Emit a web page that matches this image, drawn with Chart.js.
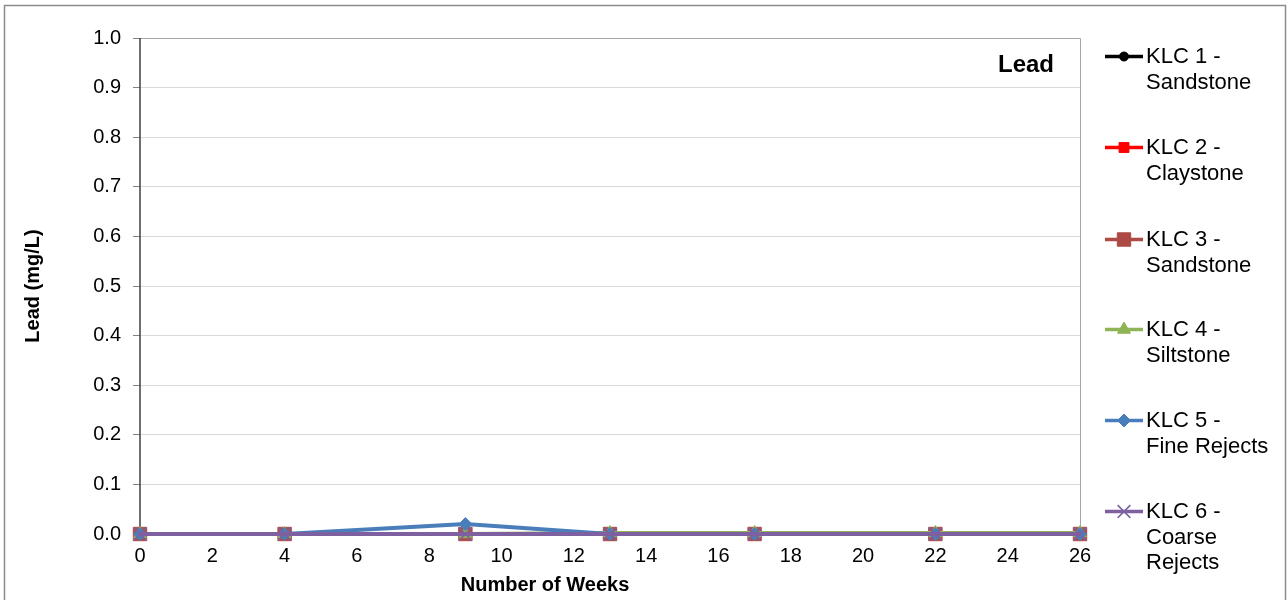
<!DOCTYPE html>
<html>
<head>
<meta charset="utf-8">
<script src="https://cdn.jsdelivr.net/npm/chart.js@4/dist/chart.umd.min.js"></script>
<style>
  body { margin: 0; background: #fff; }
  #wrap { width: 1288px; height: 600px; position: relative; }
</style>
</head>
<body>
<div id="wrap"><canvas id="lead-chart"></canvas></div>
<script>
// data
const weeks = [0, 4, 9, 13, 17, 22, 26];
const klc1 = [0, 0, 0, 0, 0, 0, 0];
const klc2 = [0, 0, 0, 0, 0, 0, 0];
const klc3 = [0, 0, 0, 0, 0, 0, 0];
const klc4 = [0, 0, 0, 0.002, 0.002, 0.002, 0.002];
const klc5 = [0, 0, 0.02, 0, 0, 0, 0];
const klc6 = [0, 0, 0, 0, 0, 0, 0];
const seriesNames = [
    ['KLC 1 -', 'Sandstone'],
    ['KLC 2 -', 'Claystone'],
    ['KLC 3 -', 'Sandstone'],
    ['KLC 4 -', 'Siltstone'],
    ['KLC 5 -', 'Fine Rejects'],
    ['KLC 6 -', 'Coarse', 'Rejects']
];
const seriesValues = [klc1, klc2, klc3, klc4, klc5, klc6];
const colors = ['#000000', '#FF0000', '#AD4A46', '#8FB456', '#4A7EBB', '#7E60A0'];
const markers = ['circle', 'rect', 'rect', 'triangle', 'rectRot', 'crossRot'];
const markerSizes = [4.5, 7, 9.5, 7.5, 6.5, 9];

const FONT = '"Liberation Sans", Arial, sans-serif';

const datasets = seriesValues.map((vals, i) => ({
    label: seriesNames[i].join(' '),
    data: weeks.map((w, j) => ({ x: w, y: vals[j] })),
    borderColor: colors[i],
    backgroundColor: colors[i],
    borderWidth: 4,
    pointStyle: markers[i],
    pointRadius: markerSizes[i],
    pointHoverRadius: markerSizes[i],
    pointBackgroundColor: colors[i],
    pointBorderColor: colors[i],
    pointBorderWidth: markers[i] === 'crossRot' ? 1.5 : 1,
    tension: 0,
    clip: false,
    order: seriesValues.length - 1 - i
}));

// frame, titles and the legend drawn by hand
const decorations = {
    id: 'decorations',
    beforeDatasetsDraw(chart) {
        const ctx = chart.ctx;
        const a = chart.chartArea;
        ctx.save();
        // plot border top / right
        ctx.strokeStyle = '#a6a6a6';
        ctx.lineWidth = 1;
        ctx.beginPath();
        ctx.moveTo(a.left, a.top + 0.5);
        ctx.lineTo(a.right + 0.5, a.top + 0.5);
        ctx.lineTo(a.right + 0.5, a.bottom);
        ctx.stroke();
        // value axis line
        ctx.strokeStyle = '#404040';
        ctx.lineWidth = 1.5;
        ctx.beginPath();
        ctx.moveTo(a.left, a.top);
        ctx.lineTo(a.left, a.bottom);
        ctx.lineTo(a.right, a.bottom);
        ctx.stroke();
        ctx.restore();
    },
    afterDraw(chart) {
        const ctx = chart.ctx;
        ctx.save();
        // outer border
        ctx.strokeStyle = '#8c8c8c';
        ctx.lineWidth = 1.5;
        ctx.strokeRect(4.5, 5.5, 1281, 700);

        ctx.fillStyle = '#000';
        // chart title inside plot
        ctx.font = 'bold 24px ' + FONT;
        ctx.textAlign = 'right';
        ctx.textBaseline = 'middle';
        ctx.fillText('Lead', 1054, 65);

        // axis titles
        ctx.font = 'bold 20px ' + FONT;
        ctx.textAlign = 'center';
        ctx.fillText('Number of Weeks', 545, 585);
        ctx.save();
        ctx.translate(33, 286);
        ctx.rotate(-Math.PI / 2);
        ctx.fillText('Lead (mg/L)', 0, 0);
        ctx.restore();

        // legend
        const baselines = [63, 154, 246, 336, 427, 518];
        ctx.font = '22px ' + FONT;
        ctx.textAlign = 'left';
        ctx.textBaseline = 'alphabetic';
        chart.data.datasets.forEach((ds, i) => {
            const by = baselines[i];
            const ly = by - 6.5;
            ctx.strokeStyle = ds.borderColor;
            ctx.lineWidth = 3.5;
            ctx.beginPath();
            ctx.moveTo(1105, ly);
            ctx.lineTo(1143, ly);
            ctx.stroke();
            ctx.fillStyle = ds.pointBackgroundColor;
            ctx.strokeStyle = ds.pointBorderColor;
            ctx.lineWidth = ds.pointBorderWidth;
            if (Chart.helpers && Chart.helpers.drawPoint) {
                Chart.helpers.drawPoint(ctx, {
                    pointStyle: ds.pointStyle,
                    radius: ds.pointRadius,
                    borderWidth: ds.pointBorderWidth,
                    rotation: 0
                }, 1124, ly);
            }
            ctx.fillStyle = '#000';
            seriesNames[i].forEach((line, k) => {
                ctx.fillText(line, 1146, by + k * 25.5);
            });
        });
        ctx.restore();
    }
};

const ctx = document.getElementById('lead-chart').getContext('2d');
const leadChart = new Chart(ctx, {
    type: 'line',
    data: { datasets: datasets },
    options: {
        responsive: true,
        maintainAspectRatio: false,
        animation: false,
        layout: { padding: { top: 38, right: 208, left: 0, bottom: 0 } },
        plugins: {
            legend: { display: false },
            title: { display: false },
            tooltip: { enabled: false }
        },
        scales: {
            x: {
                type: 'linear',
                min: 0,
                max: 26,
                afterFit: scale => { scale.height = 66; },
                ticks: {
                    stepSize: 2,
                    color: '#000',
                    padding: 10,
                    maxRotation: 0,
                    font: { family: FONT, size: 20 }
                },
                grid: { display: false, drawTicks: false },
                border: { display: false }
            },
            y: {
                min: 0,
                max: 1,
                afterFit: scale => { scale.width = 140; },
                ticks: {
                    stepSize: 0.1,
                    color: '#000',
                    padding: 12,
                    font: { family: FONT, size: 20 },
                    callback: v => v.toFixed(1)
                },
                grid: {
                    color: '#d9d9d9',
                    tickColor: '#808080',
                    tickLength: 7
                },
                border: { display: false }
            }
        }
    },
    plugins: [decorations]
});
</script>
</body>
</html>
